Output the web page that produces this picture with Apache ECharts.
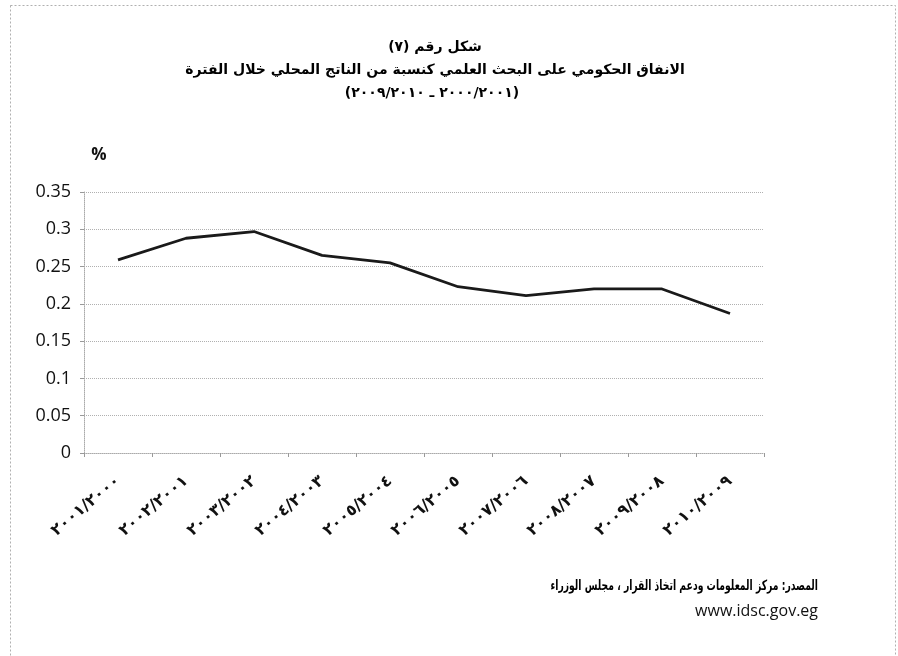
<!DOCTYPE html>
<html dir="ltr">
<head>
<meta charset="utf-8">
<script src="https://cdn.jsdelivr.net/npm/echarts@6/dist/echarts.min.js"></script>
<style>
html,body{margin:0;padding:0;background:#fff;direction:ltr;}
#c{width:898px;height:656px;direction:ltr;}
</style>
</head>
<body>
<div id="c"></div>
<script>
// Data
var categories = ["٢٠٠١/٢٠٠٠","٢٠٠٢/٢٠٠١","٢٠٠٣/٢٠٠٢","٢٠٠٤/٢٠٠٣","٢٠٠٥/٢٠٠٤","٢٠٠٦/٢٠٠٥","٢٠٠٧/٢٠٠٦","٢٠٠٨/٢٠٠٧","٢٠٠٩/٢٠٠٨","٢٠١٠/٢٠٠٩"];
var values = [0.259, 0.288, 0.297, 0.265, 0.255, 0.223, 0.211, 0.220, 0.220, 0.187];
var yTicks = [0, 0.05, 0.1, 0.15, 0.2, 0.25, 0.3, 0.35];
// Arabic lines in logical (reading) order; laid out right-to-left below
var titleWords1 = ["شكل", " ", "رقم", " ", "(٧)"];
var titleWords2 = ["الانفاق", " ", "الحكومي", " ", "على", " ", "البحث", " ", "العلمي", " ", "كنسبة", " ", "من", " ", "الناتج", " ", "المحلي", " ", "خلال", " ", "الفترة"];
// period line in visual (left-to-right) order
var titlePieces3 = ["(", "٢٠٠٩", "/", "٢٠١٠", " ", "ـ", " ", "٢٠٠٠", "/", "٢٠٠١", ")"];
var sourceWords = ["المصدر", ":", " ", "مركز", " ", "المعلومات", " ", "ودعم", " ", "اتخاذ", " ", "القرار", " ", "،", " ", "مجلس", " ", "الوزراء"];
var urlLine = "www.idsc.gov.eg";

var measureCtx = document.createElement('canvas').getContext('2d');
function lineGroup(pieces, font, ax, ay, align, sx) {
  measureCtx.font = font;
  var widths = pieces.map(function (p) { return measureCtx.measureText(p).width; });
  var total = widths.reduce(function (a, b) { return a + b; }, 0);
  var x0 = align === 'center' ? -total / 2 : (align === 'right' ? -total : 0);
  var children = [];
  var cx = x0;
  pieces.forEach(function (p, i) {
    if (p.trim() !== '') {
      children.push({type: 'text', x: cx, y: 0, style: {text: p, font: font, fill: '#000', align: 'left', verticalAlign: 'middle'}});
    }
    cx += widths[i];
  });
  return {type: 'group', x: ax, y: ay, scaleX: sx || 1, children: children, silent: true};
}
function rtl(words) { return words.slice().reverse(); }

var chart = echarts.init(document.getElementById('c'), null, {renderer:'canvas'});
var arFont = '"DejaVu Sans", sans-serif';
var numFont = '"Open Sans", "DejaVu Sans", sans-serif';

chart.setOption({
  animation: false,
  backgroundColor: '#ffffff',
  grid: {left: 84, right: 134, top: 192, bottom: 203, containLabel: false},
  xAxis: {
    type: 'category',
    data: categories,
    boundaryGap: true,
    axisLine: {show: true, lineStyle: {color: '#aaaaaa', type: 'dotted', width: 1}},
    axisTick: {show: true, length: 4, lineStyle: {color: '#999999'}},
    axisLabel: {
      rotate: 40, fontFamily: arFont, fontSize: 16, fontWeight: 'bold', color: '#111', margin: 26, interval: 0
    }
  },
  yAxis: {
    type: 'value',
    min: 0, max: 0.35, interval: 0.05,
    axisLine: {show: true, lineStyle: {color: '#aaaaaa', type: 'dotted', width: 1}},
    axisTick: {show: true, length: 4, lineStyle: {color: '#999999'}},
    splitLine: {show: true, lineStyle: {color: '#b0b0b0', type: 'dotted', width: 1}},
    axisLabel: {
      fontFamily: numFont, fontSize: 18, color: '#111', margin: 13,
      formatter: function (v) {
        for (var i = 0; i < yTicks.length; i++) { if (Math.abs(yTicks[i] - v) < 1e-9) return String(yTicks[i]); }
        return '';
      }
    }
  },
  series: [{
    type: 'line',
    data: values,
    symbol: 'none',
    smooth: false,
    lineStyle: {color: '#1a1a1a', width: 2.8}
  }],
  graphic: [
    {type: 'rect', left: 8, top: 3, shape: {width: 885, height: 670}, style: {fill: 'none', stroke: '#b0b0b0', lineWidth: 1, lineDash: [2, 2]}, silent: true},
    lineGroup(rtl(titleWords1), 'bold 14px ' + arFont, 435, 47, 'center'),
    lineGroup(rtl(titleWords2), 'bold 14px ' + arFont, 435, 70, 'center'),
    lineGroup(titlePieces3, 'bold 14px ' + arFont, 432, 93, 'center'),
    {type: 'text', x: 99, y: 155, style: {text: '%', font: 'bold 17px ' + numFont, fill: '#111', align: 'center', verticalAlign: 'middle'}},
    lineGroup(rtl(sourceWords), 'bold 14px ' + arFont, 818, 586, 'right', 0.66),
    {type: 'text', x: 818, y: 611, style: {text: urlLine, font: '16px ' + numFont, fill: '#111', align: 'right', verticalAlign: 'middle'}}
  ]
});
</script>
</body>
</html>
